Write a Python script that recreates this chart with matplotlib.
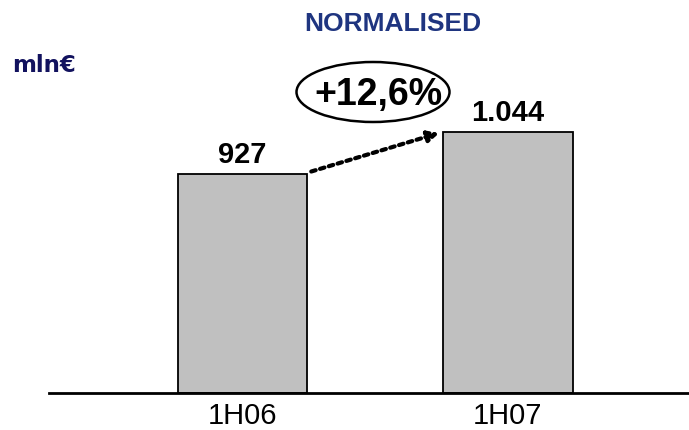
import matplotlib.pyplot as plt
from matplotlib.patches import Ellipse

periods = ['1H06', '1H07']
values = [927, 1044]
value_labels = ['927', '1.044']
growth_label = '+12,6%'

plt.rcParams['font.family'] = ['Liberation Sans', 'DejaVu Sans']

fig = plt.figure(figsize=(6.89, 4.31), dpi=100)
# axes: baseline at y=394 px, from x=49 to right edge
ax = fig.add_axes([49/689, 37/431, 640/689, 394/431])
base = 317
x = [0, 1]
ax.bar(x, [v - base for v in values], bottom=base, width=0.488,
       color='#c0c0c0', edgecolor='black', linewidth=1.3)
ax.set_xlim(-0.729, 1.682)
ax.set_ylim(base, 1415)

for xi, v, lab in zip(x, values, value_labels):
    ax.text(xi, v + 18, lab, ha='center', va='bottom', fontsize=21,
            fontweight='bold')

for s in ['top', 'right', 'left']:
    ax.spines[s].set_visible(False)
ax.spines['bottom'].set_linewidth(2)
ax.set_yticks([])
ax.set_xticks(x)
ax.set_xticklabels(periods, fontsize=21)
ax.tick_params(axis='x', length=0, pad=6)

# dotted arrow between bar tops
ax.annotate('', xy=(1 - 0.244 - 0.005, values[1]),
            xytext=(0 + 0.244 + 0.005, values[0] + 5),
            arrowprops=dict(arrowstyle='-|>', linestyle=(0, (1.1, 1.1)),
                            lw=3, color='black', mutation_scale=16))

# growth badge
fig.patches.append(Ellipse((373/689, 1 - 93/431), 153/689, 60/431,
                           transform=fig.transFigure, fill=False,
                           edgecolor='black', linewidth=1.8))
fig.text(378/689, 1 - 95/431, growth_label, ha='center', va='center',
         fontsize=27, fontweight='bold')

fig.text(393/689, 1 - 24/431, 'NORMALISED', ha='center', va='center',
         fontsize=19, fontweight='bold', color='#1f3580')
fig.text(12/689, 1 - 66/431, 'mln€', ha='left', va='center',
         fontsize=16.5, fontweight='bold', color='#12125e', family='DejaVu Sans')

fig.savefig('out.png', dpi=100)
